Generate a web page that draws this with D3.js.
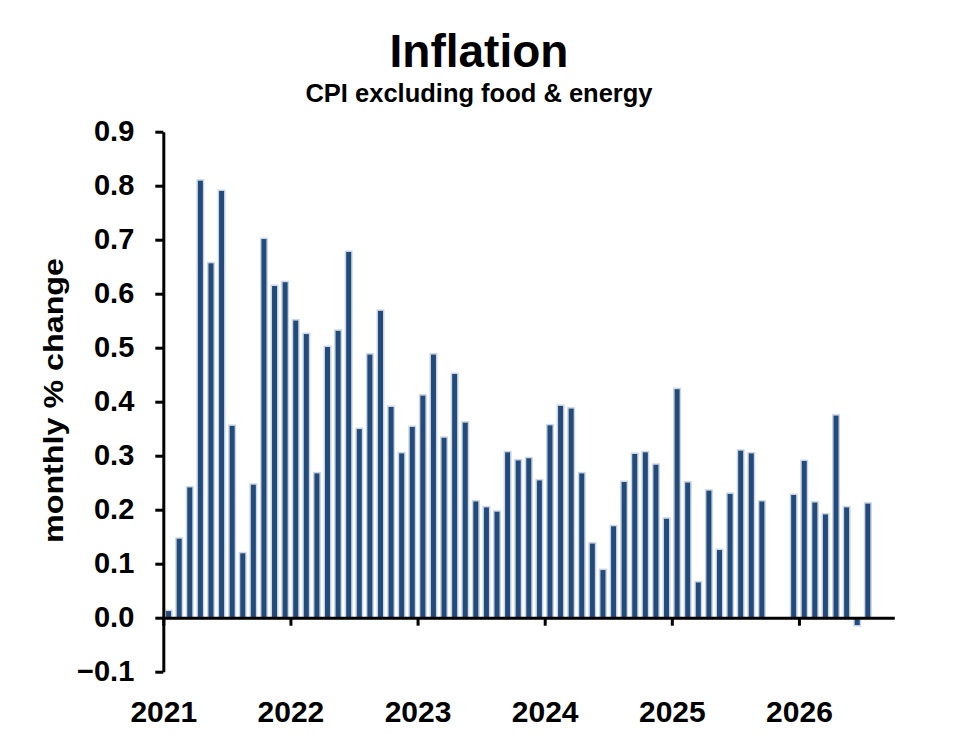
<!DOCTYPE html>
<html>
<head>
<meta charset="utf-8">
<script src="https://cdn.jsdelivr.net/npm/d3@7"></script>
<style>
  html, body { margin: 0; padding: 0; background: #fff; }
  svg { display: block; font-family: "Liberation Sans", Arial, Helvetica, sans-serif; }
</style>
</head>
<body>
<svg id="chart" width="959" height="750"></svg>
<script>
// ---- Data ----
const years = ["2021", "2022", "2023", "2024", "2025", "2026"];
const months = [];
for (const yr of years) for (let m = 1; m <= 12; m++) months.push(yr + "-" + String(m).padStart(2, "0"));
const monthsShown = months.slice(0, 69); // Jan 2021 .. Sep 2026

const v2021 = [0.015, 0.149, 0.244, 0.812, 0.659, 0.793, 0.358, 0.122, 0.249, 0.704, 0.617, 0.624];
const v2022 = [0.553, 0.528, 0.270, 0.504, 0.534, 0.680, 0.352, 0.490, 0.571, 0.393, 0.307, 0.356];
const v2023 = [0.414, 0.490, 0.336, 0.454, 0.364, 0.218, 0.207, 0.199, 0.309, 0.294, 0.298, 0.257];
const v2024 = [0.359, 0.395, 0.390, 0.270, 0.140, 0.091, 0.172, 0.254, 0.306, 0.309, 0.286, 0.186];
const v2025 = [0.426, 0.253, 0.068, 0.238, 0.128, 0.232, 0.312, 0.307, 0.218, null, null, 0.230];
const v2026 = [0.293, 0.216, 0.194, 0.377, 0.207, -0.015, 0.214, null, null];
const values = [].concat(v2021, v2022, v2023, v2024, v2025, v2026);

const yTicks = [-0.1, 0, 0.1, 0.2, 0.3, 0.4, 0.5, 0.6, 0.7, 0.8, 0.9];
const title = "Inflation";
const subtitle = "CPI excluding food & energy";
const yLabel = "monthly % change";

// ---- Layout ----
const svg = d3.select("#chart");
const plotLeft = 163.3, plotRight = 894.3, plotTop = 131.7, plotBottom = 671.7;

const x = d3.scaleLinear().domain([0, monthsShown.length]).range([plotLeft, plotRight]);
const y = d3.scaleLinear().domain([-0.1, 0.9]).range([plotBottom, plotTop]);

const barColor = "#224a7b";
const barEdge = "#cbd6e5";

// Bars
const data = monthsShown.map((m, i) => ({ m, i, v: values[i] })).filter(d => d.v !== null && d.v !== undefined);
const barOuter = 8;
svg.append("g").selectAll("rect").data(data).join("rect")
  .attr("x", d => x(d.i + 0.5) - barOuter / 2 + 0.75)
  .attr("width", barOuter - 1.5)
  .attr("y", d => Math.min(y(d.v), y(0)) + 0.75)
  .attr("height", d => Math.max(Math.abs(y(d.v) - y(0)) - 0.75, 0.5))
  .attr("fill", barColor)
  .attr("stroke", barEdge)
  .attr("stroke-width", 1.5);

// Y axis
const yAxis = svg.append("g")
  .attr("transform", `translate(${plotLeft},0)`)
  .call(d3.axisLeft(y).tickValues(yTicks).tickFormat(d3.format(".1f")).tickSize(8).tickPadding(21).tickSizeOuter(0));
yAxis.select(".domain").attr("stroke", "#000").attr("stroke-width", 3);
yAxis.selectAll(".tick line").attr("stroke", "#000").attr("stroke-width", 3);
yAxis.selectAll(".tick text")
  .attr("fill", "#000").attr("font-size", 29).attr("font-weight", "bold")
  .attr("font-family", "'Liberation Sans', Arial, sans-serif");

// X axis (at zero)
const xAxis = svg.append("g")
  .attr("transform", `translate(0,${y(0)})`)
  .call(d3.axisBottom(x).tickValues(years.map((yy, k) => k * 12)).tickFormat((d, k) => years[k])
    .tickSize(8).tickPadding(74.7).tickSizeOuter(0));
xAxis.select(".domain").attr("stroke", "#000").attr("stroke-width", 3);
xAxis.selectAll(".tick line").attr("stroke", "#000").attr("stroke-width", 3);
xAxis.selectAll(".tick text")
  .attr("fill", "#000").attr("font-size", 30).attr("font-weight", "bold")
  .attr("font-family", "'Liberation Sans', Arial, sans-serif");

// Titles
svg.append("text").attr("x", 479).attr("y", 66.7).attr("text-anchor", "middle")
  .attr("font-size", 46).attr("font-weight", "bold").attr("fill", "#000").text(title);
svg.append("text").attr("x", 479).attr("y", 101.7).attr("text-anchor", "middle")
  .attr("font-size", 25.5).attr("font-weight", "bold").attr("fill", "#000").text(subtitle);

// Y axis title
svg.append("text")
  .attr("transform", "translate(63.3,400.5) rotate(-90)")
  .attr("text-anchor", "middle")
  .attr("font-size", 28.5).attr("font-weight", "bold").attr("fill", "#000")
  .attr("textLength", 285).attr("lengthAdjust", "spacingAndGlyphs")
  .text(yLabel);
</script>
</body>
</html>
